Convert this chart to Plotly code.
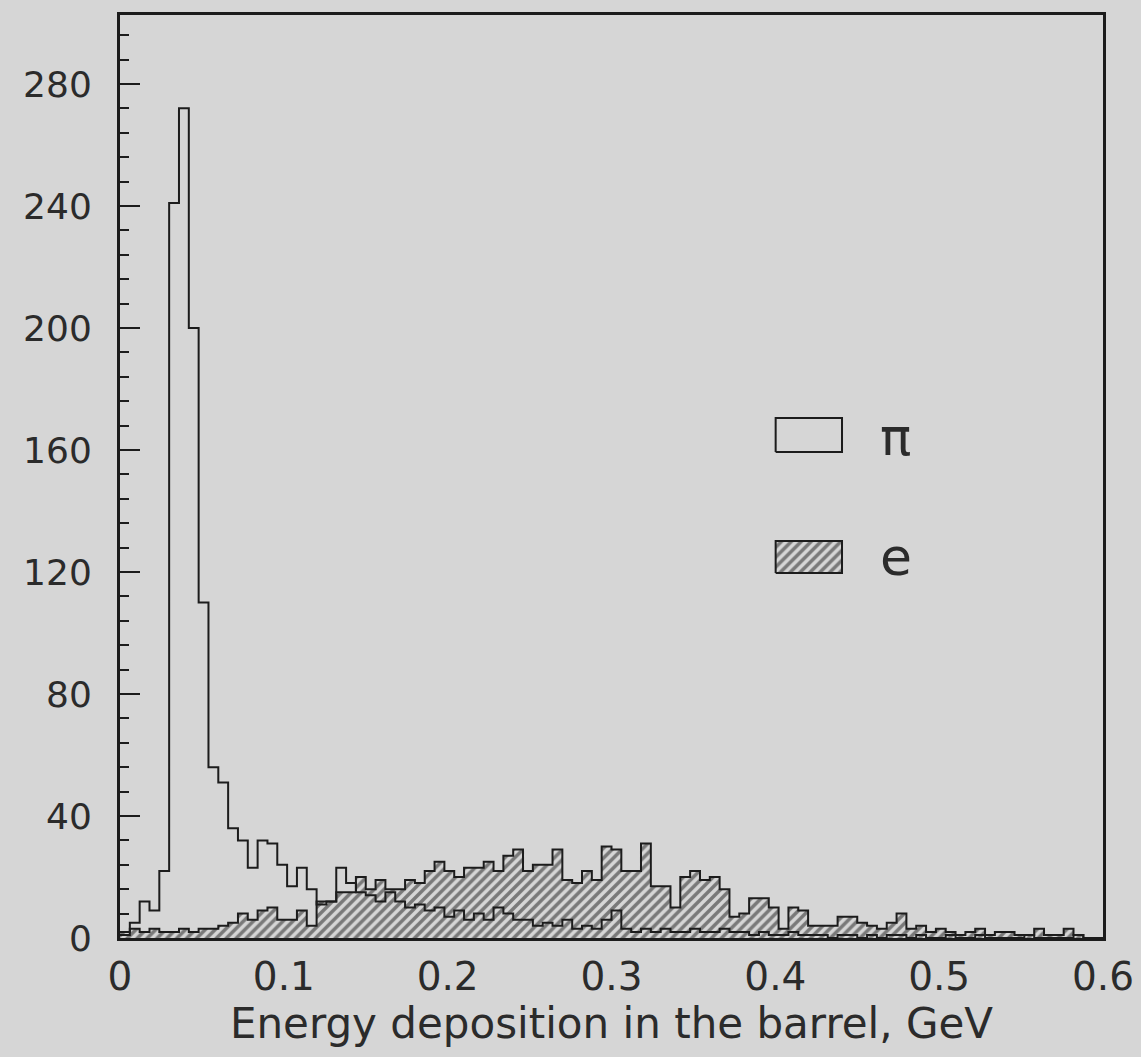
import numpy as np
import plotly.graph_objects as go

# ---- data (100 bins of width 0.006 GeV, 0 .. 0.6) ----
bin_edges = [round(i * 0.006, 3) for i in range(101)]

pi_counts = [1, 5, 12, 9, 22, 241, 272, 200, 110, 56,
             51, 36, 32, 23, 32, 31, 24, 17, 23, 16,
             11, 12, 23, 18, 15, 14, 12, 15, 12, 10,
             11, 9, 10, 7, 9, 6, 8, 6, 10, 8,
             6, 6, 4, 5, 4, 6, 3, 4, 3, 6,
             9, 3, 2, 3, 2, 3, 2, 2, 3, 2,
             2, 3, 2, 2, 1, 2, 1, 1, 2, 1,
             1, 1, 0, 1, 1, 0, 1, 0, 1, 1,
             0, 1, 0, 0, 1, 0, 0, 1, 0, 0,
             0, 0, 1, 0, 0, 0, 0, 1, 0, 0]

e_counts = [2, 3, 2, 3, 2, 2, 3, 2, 3, 3,
            4, 5, 8, 6, 9, 10, 6, 6, 9, 4,
            12, 12, 15, 15, 20, 16, 19, 16, 16, 19,
            18, 22, 25, 22, 20, 23, 23, 25, 22, 27,
            29, 22, 24, 24, 29, 19, 18, 22, 19, 30,
            29, 22, 22, 31, 17, 17, 10, 20, 22, 19,
            20, 16, 7, 8, 13, 13, 10, 3, 10, 9,
            4, 4, 4, 7, 7, 5, 4, 3, 5, 8,
            3, 4, 2, 3, 2, 1, 2, 3, 1, 2,
            2, 1, 1, 3, 1, 1, 3, 1, 0, 0]

x_tick_vals = [0, 0.1, 0.2, 0.3, 0.4, 0.5, 0.6]
x_tick_text = ["0", "0.1", "0.2", "0.3", "0.4", "0.5", "0.6"]
y_tick_vals = [0, 40, 80, 120, 160, 200, 240, 280]
legend_labels = ["π", "e"]
x_title = "Energy deposition in the barrel, GeV"

INK = "#1c1c1c"
TXT = "#2b2b2b"
PAPER = "#d6d6d6"
FONT = "DejaVu Sans"

hatch = dict(shape="/", size=7, solidity=0.5, fgcolor=INK, bgcolor="rgba(0,0,0,0)")

fig = go.Figure()

# electron histogram (hatched)
fig.add_trace(go.Scatter(
    x=bin_edges, y=e_counts + [e_counts[-1]],
    mode="lines", line=dict(shape="hv", color=INK, width=2),
    fill="tozeroy", fillcolor="rgba(0,0,0,0)", fillpattern=hatch,
    showlegend=False, hoverinfo="skip"))

# pion histogram (open outline)
fig.add_trace(go.Scatter(
    x=bin_edges, y=pi_counts + [pi_counts[-1]],
    mode="lines", line=dict(shape="hv", color=INK, width=2),
    showlegend=False, hoverinfo="skip"))

# hand-drawn legend boxes on an overlay axis (fractions of the plot area)
box_x = [0.667, 0.7345, 0.7345, 0.667, 0.667]
fig.add_trace(go.Scatter(
    x=box_x, y=[0.5265, 0.5265, 0.5634, 0.5634, 0.5265],
    xaxis="x2", yaxis="y2", mode="lines",
    line=dict(color=INK, width=2), showlegend=False, hoverinfo="skip"))
fig.add_trace(go.Scatter(
    x=box_x, y=[0.3954, 0.3954, 0.4301, 0.4301, 0.3954],
    xaxis="x2", yaxis="y2", mode="lines", fill="toself",
    fillcolor="rgba(0,0,0,0)", fillpattern=hatch,
    line=dict(color=INK, width=2), showlegend=False, hoverinfo="skip"))

fig.add_annotation(x=0.789, y=0.5428, xref="paper", yref="paper", text=legend_labels[0],
                   showarrow=False, font=dict(family=FONT, size=52, color=TXT), xanchor="center", yanchor="middle")
fig.add_annotation(x=0.789, y=0.4128, xref="paper", yref="paper", text=legend_labels[1],
                   showarrow=False, font=dict(family=FONT, size=52, color=TXT), xanchor="center", yanchor="middle")

fig.update_layout(
    width=1141, height=1057,
    margin=dict(l=120, r=38, t=15, b=119),
    paper_bgcolor=PAPER, plot_bgcolor=PAPER,
    font=dict(family=FONT, color=TXT, size=36),
    xaxis=dict(range=[0, 0.6], tickvals=x_tick_vals, ticktext=x_tick_text,
               showgrid=False, zeroline=False, showline=True, mirror=True,
               linecolor=INK, linewidth=3, ticks="", ticklabelstandoff=2,
               tickfont=dict(size=39), automargin=False,
               title=dict(text=x_title, font=dict(size=42), standoff=2)),
    yaxis=dict(range=[0, 302.6], tickvals=y_tick_vals,
               showgrid=False, zeroline=False, showline=True, mirror=True,
               linecolor=INK, linewidth=3, ticks="inside", ticklen=20, tickwidth=2,
               tickcolor=INK, ticklabelstandoff=18, tickfont=dict(size=36), automargin=False,
               minor=dict(ticks="inside", ticklen=9, tickwidth=2, dtick=8, tickcolor=INK, showgrid=False)),
    xaxis2=dict(overlaying="x", range=[0, 1], visible=False, fixedrange=True),
    yaxis2=dict(overlaying="y", range=[0, 1], visible=False, fixedrange=True),
)

fig.write_html("out.html")
